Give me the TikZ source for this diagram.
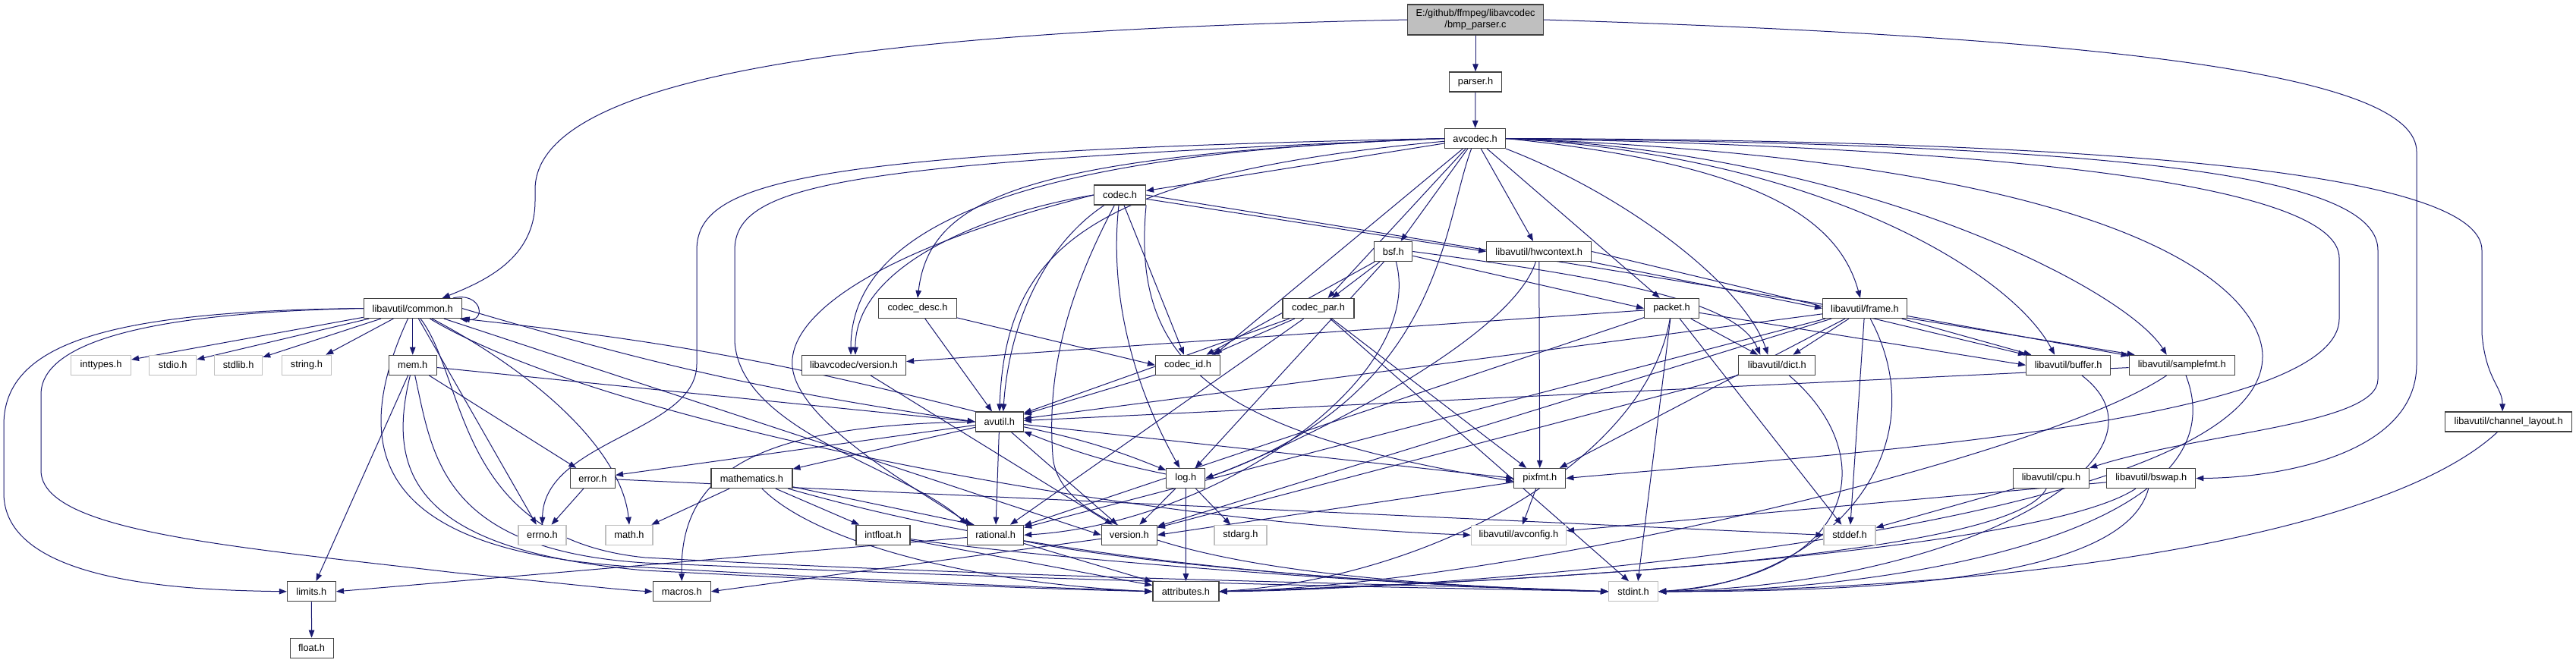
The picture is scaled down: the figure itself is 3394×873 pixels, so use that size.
\documentclass[tikz,border=0pt]{standalone}
\usepackage{fontspec}
\setmainfont{Liberation Sans}
\usetikzlibrary{arrows.meta}
\definecolor{eblue}{HTML}{191970}
\definecolor{bdark}{HTML}{404040}
\definecolor{bgray}{HTML}{BFBFBF}
\pgfdeclarelayer{paper}
\pgfdeclarelayer{bg}
\pgfsetlayers{paper,bg,main}
\tikzset{
  nb/.style={draw=bdark, fill=white, line width=1.2pt, minimum height=26pt, inner sep=0pt, font=\fontsize{12.8}{15}\selectfont},
  ng/.style={nb, draw=bgray},
  e/.style={draw=eblue, line width=1pt, -{Triangle[length=10pt,width=7.5pt]}},
}
\begin{document}
\begin{tikzpicture}[x=1pt,y=-1pt]
\begin{pgfonlayer}{paper}
\fill[white] (0,0) rectangle (3394,873);
\end{pgfonlayer}
\useasboundingbox (0,0) rectangle (3394,873);
% nodes
\node[nb, fill=bgray, minimum width=179pt, minimum height=40pt, align=center] (root) at (1944,26) {E:/github/ffmpeg/libavcodec\\/bmp\_parser.c};
\node[nb, minimum width=69pt] (parser) at (1944,108) {parser.h};
\node[nb, minimum width=80pt] (avcodec) at (1943.6,182.5) {avcodec.h};
\node[nb, minimum width=68pt] (codec) at (1475.5,257) {codec.h};
\node[nb, minimum width=50pt] (bsf) at (1835.8,331.5) {bsf.h};
\node[nb, minimum width=138pt] (hwctx) at (2027.7,331.5) {libavutil/hwcontext.h};
\node[nb, minimum width=103pt] (codecdesc) at (1209,406.5) {codec\_desc.h};
\node[nb, minimum width=94pt] (codecpar) at (1737,406.5) {codec\_par.h};
\node[nb, minimum width=72pt] (packet) at (2202.5,406.5) {packet.h};
\node[nb, minimum width=111pt] (frame) at (2457,406.5) {libavutil/frame.h};
\node[nb, minimum width=129pt] (common) at (543.7,406.5) {libavutil/common.h};
\node[ng, minimum width=79pt] (inttypes) at (133,481.3) {inttypes.h};
\node[ng, minimum width=62pt] (stdio) at (227.7,481.3) {stdio.h};
\node[ng, minimum width=63pt] (stdlib) at (314.1,481.3) {stdlib.h};
\node[ng, minimum width=65pt] (string) at (403.9,481.3) {string.h};
\node[nb, minimum width=63pt] (mem) at (543.7,481.3) {mem.h};
\node[nb, minimum width=137pt] (lavcver) at (1125,481.3) {libavcodec/version.h};
\node[nb, minimum width=85pt] (codecid) at (1565,481.3) {codec\_id.h};
\node[nb, minimum width=101pt] (dict) at (2341.3,481.3) {libavutil/dict.h};
\node[nb, minimum width=111pt] (buffer) at (2725.1,481.3) {libavutil/buffer.h};
\node[nb, minimum width=139pt] (samplefmt) at (2874.7,481.3) {libavutil/samplefmt.h};
\node[nb, minimum width=63pt] (avutil) at (1316.8,556) {avutil.h};
\node[nb, minimum width=167pt] (chlayout) at (3305.1,556) {libavutil/channel\_layout.h};
\node[nb, minimum width=107pt] (mathem) at (990.4,630.5) {mathematics.h};
\node[nb, minimum width=59pt] (errorh) at (780.9,630.5) {error.h};
\node[nb, minimum width=51pt] (logh) at (1562.3,630.5) {log.h};
\node[nb, minimum width=68pt] (pixfmt) at (2028.8,630.5) {pixfmt.h};
\node[nb, minimum width=100pt] (cpu) at (2702.5,630.5) {libavutil/cpu.h};
\node[nb, minimum width=117pt] (bswap) at (2834.3,630.5) {libavutil/bswap.h};
\node[ng, minimum width=63pt] (errno) at (714.5,705.3) {errno.h};
\node[ng, minimum width=62pt] (math) at (829,705.3) {math.h};
\node[nb, minimum width=71pt] (intfloat) at (1163.5,705.3) {intfloat.h};
\node[nb, minimum width=74pt] (rational) at (1311.6,705.3) {rational.h};
\node[nb, minimum width=73pt] (version) at (1487.8,705.3) {version.h};
\node[ng, minimum width=69pt] (stdarg) at (1634.4,705.3) {stdarg.h};
\node[ng, minimum width=125pt] (avconfig) at (2000.9,705.3) {libavutil/avconfig.h};
\node[ng, minimum width=68pt] (stddef) at (2437,705.3) {stddef.h};
\node[nb, minimum width=64pt] (limits) at (410.4,779.8) {limits.h};
\node[nb, minimum width=76pt] (macros) at (898.3,779.8) {macros.h};
\node[nb, minimum width=87pt] (attributes) at (1562.4,779.8) {attributes.h};
\node[ng, minimum width=65pt] (stdint) at (2152.1,779.8) {stdint.h};
\node[nb, minimum width=57pt] (float) at (410.6,854.3) {float.h};

\begin{pgfonlayer}{bg}
% root
\draw[e] (root) -- (parser);
\draw[e] (parser) -- (avcodec);
\draw[e] (root.west) .. controls (1200,40) and (705,90) .. (705,250) -- (705,265) .. controls (705,340) and (640,370) .. ([xshift=39pt]common.north);
\draw[e] (root.east) .. controls (2800,50) and (3184,100) .. (3184,200) -- (3184,480) .. controls (3184,600) and (3000,630) .. (bswap.east);
% avcodec
\draw[e] (avcodec) -- (codec);
\draw[e] (avcodec.west) .. controls (1350,205) and (1225,260) .. (codecdesc.north);
\draw[e] (avcodec.west) .. controls (1050,200) and (918,240) .. (918,330) -- (918,480) .. controls (918,570) and (716,580) .. (errno.north);
\draw[e] (avcodec.west) .. controls (1120,215) and (968,240) .. (968,330) -- (968,450) .. controls (975,570) and (1200,620) .. (rational.north west);
\draw[e] (avcodec.west) .. controls (1400,200) and (1121,280) .. ([xshift=-4pt]lavcver.north);
\draw[e] (avcodec) .. controls (1430,230) and (1325,330) .. (avutil.north);
\draw[e] (avcodec) -- (bsf);
\draw[e] (avcodec) -- (codecpar);
\draw[e] (avcodec) -- ([xshift=-8pt]codecid.north east);
\draw[e] (avcodec) -- (hwctx);
\draw[e] (avcodec) -- (packet);
\draw[e] (avcodec) .. controls (1900,300) and (1900,520) .. (logh.east);
\draw[e] (avcodec.east) .. controls (2700,195) and (3082,250) .. (3082,340) -- (3082,420) .. controls (3082,560) and (2400,600) .. (pixfmt.east);
\draw[e] (avcodec.east) .. controls (2800,190) and (3133,230) .. (3133,330) -- (3133,500) .. controls (3133,560) and (2900,570) .. (cpu.north east);
\draw[e] (avcodec.east) .. controls (2900,185) and (3270,240) .. (3270,330) -- (3270,440) .. controls (3275,500) and (3297,510) .. ([xshift=-8pt]chlayout.north);
\draw[e] (avcodec.east) .. controls (2450,200) and (2800,380) .. ([xshift=-20pt]samplefmt.north);
\draw[e] (avcodec.east) .. controls (2400,205) and (2650,360) .. ([xshift=-18pt]buffer.north);
\draw[e] (avcodec.south east) .. controls (2150,260) and (2300,380) .. ([xshift=-12pt]dict.north);
\draw[e] (avcodec.east) .. controls (2300,215) and (2420,280) .. ([xshift=-6pt]frame.north);
\draw[e] (avcodec.east) .. controls (2981,220) and (2981,450) .. (2981,470) .. controls (2981,700) and (1900,778) .. (attributes.east);
% codec.h
\draw[e] (codec) .. controls (1380,320) and (1330,420) .. ([xshift=5pt]avutil.north);
\draw[e] (codec) -- (hwctx.west);
\draw[e] (codec.east) -- ([xshift=8pt]samplefmt.north west);
\draw[e] (codec) .. controls (1460,400) and (1500,520) .. ([xshift=-8pt]logh.north);
\draw[e] (codec.south east) .. controls (1490,480) and (1600,570) .. ([yshift=-4pt]pixfmt.west);
\draw[e] (codec.west) .. controls (1150,330) and (1030,420) .. (1045,490) .. controls (1060,560) and (1200,640) .. ([xshift=-32pt]rational.north);
\draw[e] (codec) -- ([xshift=-5pt]codecid.north);
\draw[e] (codec.west) .. controls (1300,280) and (1126,350) .. ([xshift=2pt]lavcver.north);
\draw[e] (codec) .. controls (1400,400) and (1380,500) .. (1387,600) .. controls (1395,740) and (1800,770) .. (stdint.west);
% codec_desc
\draw[e] (codecdesc) -- (avutil);
\draw[e] (codecdesc) -- (codecid.west);
% bsf
\draw[e] (bsf) -- (codecpar);
\draw[e] (bsf) -- (codecid);
\draw[e] (bsf) -- (logh);
\draw[e] (bsf) .. controls (1880,500) and (1600,690) .. (rational.east);
\draw[e] (bsf) -- (packet.west);
\draw[e] (bsf.east) .. controls (2150,370) and (2290,400) .. ([xshift=-22pt]dict.north);
% hwcontext
\draw[e] (hwctx) -- (frame.west);
\draw[e] (hwctx.east) -- (buffer.north west);
\draw[e] (hwctx) .. controls (1990,450) and (1700,590) .. (logh.east);
\draw[e] (hwctx) -- (pixfmt);
% codec_par
\draw[e] (codecpar) -- (codecid);
\draw[e] (codecpar) -- (avutil);
\draw[e] (codecpar) -- (rational);
\draw[e] (codecpar) -- (pixfmt);
\draw[e] (codecpar) -- ([xshift=-6pt]stdint.north);
% packet
\draw[e] (packet) -- (lavcver);
\draw[e] (packet) -- (dict);
\draw[e] (packet) -- (buffer.west);
\draw[e] (packet) -- (stddef);
\draw[e] (packet) -- ([xshift=6pt]stdint.north);
\draw[e] (packet) .. controls (2170,600) and (1900,760) .. (attributes.east);
\draw[e] (packet) -- (rational);
% frame
\draw[e] (frame) -- (avutil);
\draw[e] (frame) -- (dict);
\draw[e] (frame) -- (buffer);
\draw[e] (frame) -- (samplefmt);
\draw[e] (frame) -- (pixfmt);
\draw[e] (frame) -- (rational);
\draw[e] (frame) -- (version);
\draw[e] (frame) -- (stddef);
\draw[e] (frame) .. controls (2560,600) and (2400,770) .. (stdint.east);
% misc libavcodec
\draw[e] (lavcver) -- (version);
\draw[e] (codecid) -- (avutil);
\draw[e] (dict) .. controls (2480,600) and (2450,760) .. (stdint.east);
\draw[e] (dict) -- (version);
\draw[e] (buffer) .. controls (2880,600) and (2600,770) .. (stdint.east);
\draw[e] (samplefmt) -- (avutil);
\draw[e] (samplefmt) .. controls (2700,600) and (2000,770) .. (attributes.east);
\draw[e] (samplefmt) .. controls (2960,700) and (2500,780) .. (stdint.east);
\draw[e] (chlayout) .. controls (3150,700) and (2700,775) .. (stdint.east);
\draw[e] (cpu) -- (stddef);
\draw[e] (cpu) .. controls (2660,720) and (2200,760) .. (attributes.east);
\draw[e] (bswap) -- (avconfig);
\draw[e] (bswap) .. controls (2700,720) and (2100,765) .. (attributes.east);
\draw[e] (bswap) .. controls (2800,760) and (2500,780) .. (stdint.east);
% avutil
\draw[e] (avutil.north west) to[bend right=4] (common.south east);
\draw[e] (common.east) to[bend right=4] (avutil.west);
\draw[e] (avutil) -- (errorh);
\draw[e] (avutil) -- (mathem);
\draw[e] (avutil.west) .. controls (1000,560) and (895,620) .. (macros.north);
\draw[e] (avutil) -- (rational);
\draw[e] (avutil) -- (version);
\draw[e] (avutil) to[bend left=5] (logh);
\draw[e] (logh) to[bend left=5] (avutil);
\draw[e] (avutil) -- (pixfmt.west);
% log
\draw[e] (logh) -- (version);
\draw[e] (logh) -- (stdarg);
\draw[e] (logh) -- (attributes);
% mathematics
\draw[e] (mathem) -- (math);
\draw[e] (mathem) -- (intfloat);
\draw[e] (mathem) -- ([xshift=-28pt]rational.north);
\draw[e] (mathem) .. controls (1080,720) and (1300,770) .. (attributes.west);
\draw[e] (mathem) .. controls (1200,690) and (1500,760) .. (stdint.west);
% error
\draw[e] (errorh) -- (errno);
\draw[e] (errorh) -- (stddef.west);
% mem
\draw[e] (mem) -- (avutil.west);
\draw[e] (mem) -- (errorh);
\draw[e] (mem) -- (limits);
\draw[e] (mem) .. controls (510,620) and (540,725) .. (850,752) .. controls (1300,775) and (1450,778) .. (attributes.west);
\draw[e] (mem) .. controls (570,600) and (580,725) .. (850,742) .. controls (1500,770) and (1900,775) .. (stdint.west);
% common
\draw[e] (common) -- (inttypes);
\draw[e] (common) -- (stdio);
\draw[e] (common) -- (stdlib);
\draw[e] (common) -- (string);
\draw[e] (common) -- (mem);
\draw[e] (common) -- (errno);
\draw[e] (common.west) .. controls (150,410) and (5,450) .. (5,560) -- (5,650) .. controls (5,770) and (250,778) .. (limits.west);
\draw[e] (common.west) .. controls (200,412) and (54,450) .. (54,520) -- (54,620) .. controls (54,700) and (300,720) .. (600,755) .. controls (750,770) and (820,778) .. (macros.west);
\draw[e] (common) .. controls (720,500) and (820,600) .. (math.north);
\draw[e] (common) .. controls (455,600) and (500,730) .. (850,748) .. controls (1200,768) and (1400,775) .. (attributes.west);
\draw[e] (common) .. controls (615,500) and (600,710) .. (850,735) .. controls (1400,765) and (1900,770) .. (stdint.west);
\draw[e] (common) -- (version.west);
\draw[e] (common) .. controls (800,560) and (1500,690) .. (avconfig.west);
\draw[e] ([xshift=-12pt]common.north east) .. controls (635,384) and (642,425) .. ([xshift=-3pt]common.south east);
% rational, version, pixfmt, intfloat, limits
\draw[e] (rational) -- (limits.east);
\draw[e] (rational) -- (attributes);
\draw[e] (rational) .. controls (1500,745) and (1900,775) .. (stdint.west);
\draw[e] (version) -- (macros.east);
\draw[e] (pixfmt) -- (avconfig);
\draw[e] (pixfmt) -- (version.east);
\draw[e] (intfloat) -- (attributes);
\draw[e] (intfloat) .. controls (1400,740) and (1900,775) .. (stdint.west);
\draw[e] (limits) -- (float);
\end{pgfonlayer}
\end{tikzpicture}
\end{document}
